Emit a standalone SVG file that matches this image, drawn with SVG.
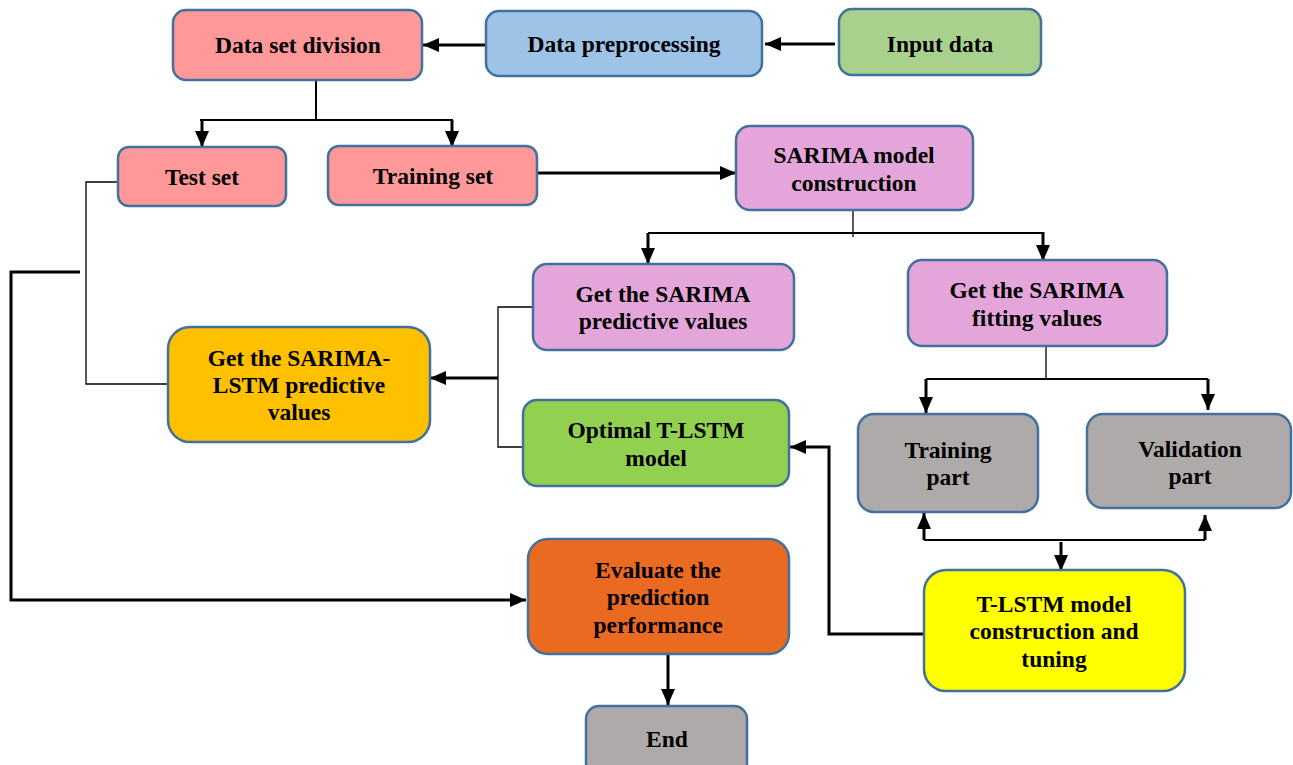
<svg xmlns="http://www.w3.org/2000/svg" width="1293" height="765" viewBox="0 0 1293 765">
<defs>
<marker id="ah" markerUnits="userSpaceOnUse" markerWidth="18" markerHeight="16" refX="16" refY="8" orient="auto">
<path d="M0,1 L16,8 L0,15 z" fill="#000"/>
</marker>
<style>
.box{stroke:#41719C;stroke-width:2.5}
.t{font-family:"Liberation Serif","Times New Roman",serif;font-weight:bold;font-size:23.5px;fill:#000;text-anchor:middle}
.thick{fill:none;stroke:#000;stroke-width:3}
.mid{fill:none;stroke:#000;stroke-width:2}
.thin{fill:none;stroke:#000;stroke-width:1.3}
.arr{marker-end:url(#ah)}
</style>
</defs>
<rect width="1293" height="765" fill="#fff"/>
<g id="connectors">
<path class="thick arr" d="M486,45 H423"/>
<path class="thick arr" d="M835,44 H765"/>
<path class="mid" d="M316,80 V120"/>
<path class="mid" d="M200,120 H453"/>
<path class="thick arr" d="M202,120 V147"/>
<path class="thick arr" d="M452,120 V147"/>
<path class="thick arr" d="M537,173 H736"/>
<path class="thin" d="M853,210 V237"/>
<path class="mid" d="M648,233 H1043"/>
<path class="thick arr" d="M648,233 V264"/>
<path class="thick arr" d="M1043,232 V261"/>
<path class="thin" d="M533,307 H498 V447 H523"/>
<path class="thick arr" d="M498,378 H430"/>
<path class="thin" d="M118,182 H86 V384 H168"/>
<path class="thick arr" d="M80,272 H11 V600 H526"/>
<path class="thick arr" d="M668,654 V705"/>
<path class="thin" d="M1046,346 V379"/>
<path class="mid" d="M926,379 H1208"/>
<path class="thick arr" d="M926,379 V413"/>
<path class="thick arr" d="M1208,379 V410"/>
<path class="mid" d="M924,540 H1205"/>
<path class="thick arr" d="M924,540 V513"/>
<path class="thick arr" d="M1205,540 V515"/>
<path class="thick arr" d="M1061,542 V571"/>
<path class="thick arr" d="M924,634 H829 V447 H790"/>
</g>
<g id="n-dsd"><rect class="box" x="173" y="10" width="249" height="70" rx="13" fill="#FF9999"/><text class="t" x="298" y="53">Data set division</text></g>
<g id="n-dp"><rect class="box" x="486" y="11" width="276" height="65" rx="13" fill="#9DC3E6"/><text class="t" x="624" y="52">Data preprocessing</text></g>
<g id="n-input"><rect class="box" x="839" y="9" width="202" height="66" rx="13" fill="#A9D18E"/><text class="t" x="940" y="52">Input data</text></g>
<g id="n-test"><rect class="box" x="118" y="147" width="168" height="59" rx="11" fill="#FF9999"/><text class="t" x="202" y="185">Test set</text></g>
<g id="n-train"><rect class="box" x="328" y="146" width="209" height="59" rx="11" fill="#FF9999"/><text class="t" x="433" y="184">Training set</text></g>
<g id="n-sarima"><rect class="box" x="736" y="126" width="237" height="84" rx="14" fill="#E4A6DA"/><text class="t" x="854" y="163">SARIMA model</text><text class="t" x="854" y="191">construction</text></g>
<g id="n-pred"><rect class="box" x="533" y="264" width="261" height="86" rx="14" fill="#E4A6DA"/><text class="t" x="663" y="302">Get the SARIMA</text><text class="t" x="663" y="329">predictive values</text></g>
<g id="n-fit"><rect class="box" x="908" y="260" width="259" height="86" rx="14" fill="#E4A6DA"/><text class="t" x="1037" y="298">Get the SARIMA</text><text class="t" x="1037" y="326">fitting values</text></g>
<g id="n-hybrid"><rect class="box" x="168" y="327" width="262" height="115" rx="22" fill="#FFC000"/><text class="t" x="299" y="366">Get the SARIMA-</text><text class="t" x="299" y="393">LSTM predictive</text><text class="t" x="299" y="420">values</text></g>
<g id="n-opt"><rect class="box" x="523" y="400" width="266" height="86" rx="14" fill="#92D050"/><text class="t" x="656" y="438">Optimal T-LSTM</text><text class="t" x="656" y="466">model</text></g>
<g id="n-trpart"><rect class="box" x="858" y="414" width="180" height="98" rx="16" fill="#AEAAAA"/><text class="t" x="948" y="458">Training</text><text class="t" x="948" y="485">part</text></g>
<g id="n-valpart"><rect class="box" x="1087" y="414" width="204" height="94" rx="16" fill="#AEAAAA"/><text class="t" x="1190" y="457">Validation</text><text class="t" x="1190" y="484">part</text></g>
<g id="n-eval"><rect class="box" x="528" y="539" width="261" height="115" rx="20" fill="#EB6A22"/><text class="t" x="658" y="578">Evaluate the</text><text class="t" x="658" y="605">prediction</text><text class="t" x="658" y="633">performance</text></g>
<g id="n-end"><rect class="box" x="586" y="706" width="161" height="70" rx="13" fill="#AEAAAA"/><text class="t" x="667" y="747">End</text></g>
<g id="n-tlstm"><rect class="box" x="924" y="570" width="261" height="121" rx="22" fill="#FFFF00"/><text class="t" x="1054" y="612">T-LSTM model</text><text class="t" x="1054" y="639">construction and</text><text class="t" x="1054" y="667">tuning</text></g>
</svg>
